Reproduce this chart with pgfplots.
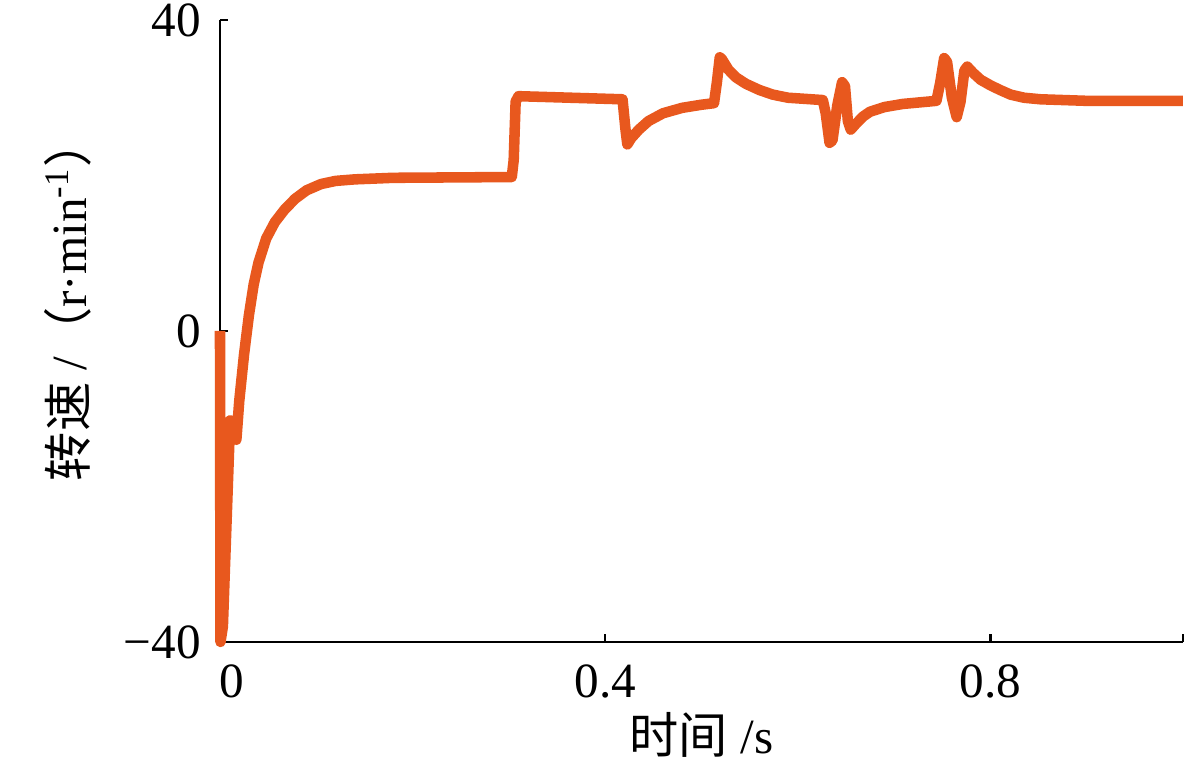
\documentclass[border=0pt]{standalone}
\usepackage{fontspec}
\setmainfont{Liberation Serif}
\newfontfamily\cjk{Noto Sans CJK SC}
\usepackage{pgfplots}
\pgfplotsset{compat=1.18}
\definecolor{speedline}{RGB}{232,88,30}
\begin{document}
\fontsize{14}{16}\selectfont
\begin{tikzpicture}
\begin{axis}[
    width=9.63cm, height=6.22cm,
    scale only axis,
    axis lines*=left,
    axis line style={-, line width=0.7pt},
    xmin=0, xmax=1,
    ymin=-40, ymax=40,
    xtick={0,0.4,0.8,1},
    xticklabels={\hspace{0.24cm}0,0.4,0.8,},
    ytick={-40,0,40},
    yticklabels={−40,0,40},
    tick align=inside,
    major tick length=0.08cm,
    tick style={line width=0.7pt, black},
    xticklabel style={yshift=-0.06cm},
    yticklabel style={xshift=-0.02cm},
    xlabel={{\cjk 时间} /s},
    ylabel={{\cjk 转速} /{\cjk （}r·min\textsuperscript{-1}{\cjk ）}},
    x label style={at={(axis description cs:0.5,-0.15)}, anchor=center},
    y label style={at={(axis description cs:-0.158,0.55)}, anchor=center},
    clip=false,
]
\addplot[color=speedline, line width=3pt, line join=round] coordinates {
(0,0) (0.0005,-40) (0.003,-38) (0.0105,-11.5) (0.013,-12) (0.017,-14)
(0.020,-9) (0.025,-3) (0.030,2) (0.035,6) (0.040,8.8) (0.048,11.9)
(0.057,14) (0.067,15.6) (0.078,17) (0.090,18.1) (0.105,18.9) (0.120,19.3)
(0.140,19.5) (0.180,19.7) (0.303,19.8) (0.305,22) (0.307,29.5) (0.310,30.2)
(0.418,29.8) (0.421,26) (0.423,24) (0.427,24.8) (0.435,25.9) (0.445,27)
(0.460,28) (0.480,28.7) (0.500,29.1) (0.513,29.3) (0.516,32) (0.519,35.2)
(0.521,35) (0.528,33.6) (0.536,32.6) (0.546,31.8) (0.560,31) (0.574,30.4)
(0.590,30) (0.626,29.7) (0.629,28) (0.633,24.2) (0.636,24.5) (0.641,29)
(0.646,32) (0.649,31.5) (0.652,27) (0.655,25.9) (0.660,26.6) (0.668,27.6)
(0.675,28.2) (0.690,28.8) (0.709,29.2) (0.744,29.6) (0.748,32) (0.752,35.1)
(0.755,34.6) (0.760,30) (0.765,27.5) (0.769,29.5) (0.773,33.5) (0.776,34)
(0.782,33.2) (0.790,32.3) (0.800,31.6) (0.810,31) (0.821,30.4) (0.835,30)
(0.852,29.8) (0.900,29.6) (1.000,29.6)
};
\coordinate (SW) at (rel axis cs:0,0);
\coordinate (NE) at (rel axis cs:1,1);
\end{axis}
\pgfresetboundingbox
\path[use as bounding box] ([shift={(-2.2cm,-1.24cm)}]SW) rectangle ([shift={(0.17cm,0.2cm)}]NE);
\end{tikzpicture}
\end{document}
